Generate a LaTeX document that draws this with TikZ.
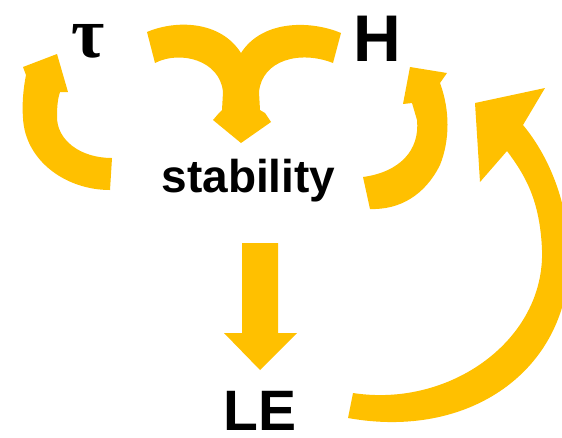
\documentclass[tikz,border=0pt]{standalone}
\usepackage{fontspec}
\setmainfont{Liberation Sans}
\newfontfamily\greekfont{Liberation Serif}
\definecolor{gold}{HTML}{FFC000}
\begin{document}
\begin{tikzpicture}[x=1pt,y=-1pt,
  arrowshape/.style={fill=gold, draw=none},
  lbl/.style={inner sep=0pt, anchor=base, font=\bfseries}]
\useasboundingbox (0,0) rectangle (562,437);

% labels
\node[lbl] (tau) at (88,57) {\greekfont\fontsize{72}{76}\selectfont τ};
\node[lbl] (H) at (377,61) {\fontsize{66}{70}\selectfont H};
\node[lbl] (stab) at (248.5,192) {\fontsize{46}{50}\selectfont stability};
\node[lbl] (LE) at (260,430) {\fontsize{57}{60}\selectfont LE};

% arrow A (left loop near tau)
\fill[arrowshape] (112,158) .. controls (80,158) and (57,140) .. (57,117)
  .. controls (57,105) and (58,98) .. (60,92)
  -- (68,92) -- (57,54) -- (23,67) -- (26,75)
  .. controls (23,90) and (22,105) .. (23,118)
  .. controls (25,160) and (65,190) .. (110,190) -- cycle;

% arrow B (merging arrow into stability)
\fill[arrowshape] (147,32) .. controls (175,20) and (220,20) .. (241,53)
  .. controls (262,20) and (310,20) .. (341,33)
  -- (333,63)
  .. controls (300,50) and (262,60) .. (259,92)
  -- (260,110) -- (265,113) -- (271,122) -- (241,143) -- (213,120)
  -- (219,113) -- (222,110) -- (223,92)
  .. controls (220,60) and (180,50) .. (155,63) -- cycle;

% arrow C (right loop near H)
\fill[arrowshape] (363,177) .. controls (400,172) and (420,150) .. (417,120)
  -- (412,103) -- (403,104) -- (410,67) -- (447,73) -- (440,83)
  .. controls (450,110) and (450,140) .. (440,165)
  .. controls (425,195) and (400,210) .. (370,209) -- cycle;

% arrow D (LE back to H)
\fill[arrowshape] (353,393) .. controls (450,408) and (545,340) .. (542,250)
  .. controls (540,200) and (525,175) .. (507,151)
  -- (480,182) -- (475,103) -- (545,88) -- (523,125)
  .. controls (552,160) and (570,210) .. (569,262)
  .. controls (567,370) and (470,440) .. (348,418) -- cycle;

% arrow E (stability to LE)
\fill[arrowshape] (242,243) -- (278,243) -- (278,333) -- (297,333)
  -- (260,370) -- (224,333) -- (242,333) -- cycle;
\end{tikzpicture}
\end{document}
